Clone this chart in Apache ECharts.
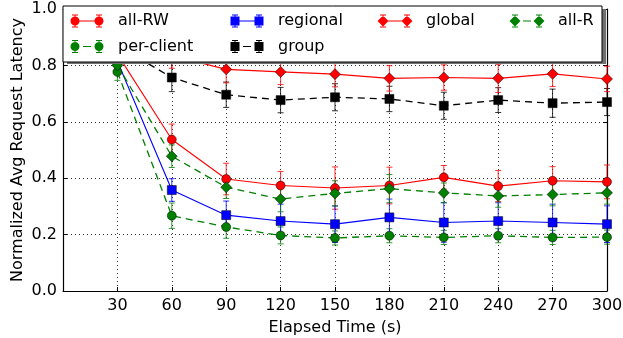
<!DOCTYPE html>
<html>
<head>
<meta charset="utf-8">
<script src="https://cdn.jsdelivr.net/npm/echarts@6/dist/echarts.min.js"></script>
<style>
html, body { margin: 0; padding: 0; background: #fff; }
#chart { width: 623px; height: 338px; }
</style>
</head>
<body>
<div id="chart"></div>
<script>
// elapsed time (s)
var times = [30, 60, 90, 120, 150, 180, 210, 240, 270, 300];

// normalized avg request latency, mean and error per series
var allRW        = [0.84, 0.537, 0.397, 0.374, 0.365, 0.374, 0.403, 0.372, 0.391, 0.387];
var allRWErr     = [0.05, 0.055, 0.056, 0.05, 0.075, 0.065, 0.042, 0.055, 0.05, 0.06];
var perClient    = [0.777, 0.267, 0.227, 0.197, 0.188, 0.196, 0.19, 0.196, 0.19, 0.191];
var perClientErr = [0.03, 0.045, 0.04, 0.03, 0.025, 0.025, 0.025, 0.025, 0.025, 0.025];
var regional     = [0.815, 0.358, 0.269, 0.248, 0.237, 0.261, 0.243, 0.248, 0.243, 0.237];
var regionalErr  = [0.04, 0.04, 0.05, 0.06, 0.065, 0.065, 0.07, 0.065, 0.065, 0.065];
var group        = [0.87, 0.757, 0.696, 0.677, 0.687, 0.681, 0.657, 0.677, 0.666, 0.67];
var groupErr     = [0.048, 0.05, 0.045, 0.045, 0.048, 0.045, 0.048, 0.044, 0.05, 0.048];
var globalLat    = [0.87, 0.835, 0.786, 0.777, 0.769, 0.754, 0.757, 0.754, 0.77, 0.752];
var globalErr    = [0.045, 0.045, 0.048, 0.045, 0.045, 0.045, 0.045, 0.05, 0.045, 0.045];
var allR         = [0.80, 0.478, 0.368, 0.326, 0.346, 0.363, 0.348, 0.337, 0.342, 0.348];
var allRErr      = [0.03, 0.04, 0.04, 0.045, 0.045, 0.05, 0.035, 0.04, 0.04, 0.04];

var FONT = 'DejaVu Sans';

// legend icon paths (errorbar style: marker - line - marker with caps)
function rectP(x, y, w, h) {
    return 'M' + x + ' ' + y + 'L' + (x + w) + ' ' + y + 'L' + (x + w) + ' ' + (y + h) + 'L' + x + ' ' + (y + h) + 'Z';
}
function markerP(kind, cx, cy) {
    if (kind === 'circle') {
        var r = 4.5;
        return 'M' + (cx - r) + ' ' + cy + 'A' + r + ' ' + r + ' 0 1 1 ' + (cx + r) + ' ' + cy +
               'A' + r + ' ' + r + ' 0 1 1 ' + (cx - r) + ' ' + cy + 'Z';
    }
    if (kind === 'rect') return rectP(cx - 4.5, cy - 4.5, 9, 9);
    var d = 5.5;
    return 'M' + cx + ' ' + (cy - d) + 'L' + (cx + d) + ' ' + cy + 'L' + cx + ' ' + (cy + d) + 'L' + (cx - d) + ' ' + cy + 'Z';
}
function iconPath(kind, dashed) {
    var p = rectP(0, 0, 0.01, 0.01) + rectP(35.99, 12.99, 0.01, 0.01);
    [6, 30].forEach(function (cx) {
        p += rectP(cx - 0.5, 0, 1, 13) + rectP(cx - 3, 0, 6, 1) + rectP(cx - 3, 12, 6, 1);
        p += markerP(kind, cx, 6.5);
    });
    p += dashed ? rectP(14, 6, 8, 1) : rectP(6, 6, 24, 1);
    return 'path://' + p;
}

function errSeries(name, vals, errs, color) {
    return {
        type: 'custom',
        name: name,
        silent: true,
        itemStyle: { color: color },
        data: times.map(function (t, i) { return [t, vals[i], errs[i]]; }),
        encode: { x: 0, y: 1 },
        renderItem: function (params, api) {
            var x = api.value(0), v = api.value(1), e = api.value(2);
            var top = api.coord([x, v + e]);
            var bot = api.coord([x, v - e]);
            var st = { stroke: color, lineWidth: 1, opacity: 0.8 };
            return {
                type: 'group',
                children: [
                    { type: 'line', shape: { x1: top[0], y1: top[1], x2: bot[0], y2: bot[1] }, style: st },
                    { type: 'line', shape: { x1: top[0] - 3, y1: top[1], x2: top[0] + 3, y2: top[1] }, style: st },
                    { type: 'line', shape: { x1: bot[0] - 3, y1: bot[1], x2: bot[0] + 3, y2: bot[1] }, style: st }
                ]
            };
        }
    };
}

function lineSeries(name, vals, color, symbol, size, dashed) {
    return {
        type: 'line',
        name: name,
        data: times.map(function (t, i) { return [t, vals[i]]; }),
        symbol: symbol,
        symbolSize: size,
        showAllSymbol: true,
        itemStyle: { color: color, borderColor: '#000', borderWidth: 0.5 },
        lineStyle: { color: color, width: dashed ? 1.3 : 1.1, type: dashed ? [7, 5] : 'solid' },
        emphasis: { disabled: true }
    };
}

var defs = [
    { name: 'all-RW', vals: allRW, errs: allRWErr, color: '#ff0000', kind: 'circle', size: 9, dashed: false, left: 69, top: 13 },
    { name: 'per-client', vals: perClient, errs: perClientErr, color: '#008000', kind: 'circle', size: 9, dashed: true, left: 69, top: 38.5 },
    { name: 'regional', vals: regional, errs: regionalErr, color: '#0000ff', kind: 'rect', size: 9, dashed: false, left: 229, top: 13 },
    { name: 'group', vals: group, errs: groupErr, color: '#000000', kind: 'rect', size: 9, dashed: true, left: 229, top: 38.5 },
    { name: 'global', vals: globalLat, errs: globalErr, color: '#ff0000', kind: 'diamond', size: 11, dashed: false, left: 377, top: 13 },
    { name: 'all-R', vals: allR, errs: allRErr, color: '#008000', kind: 'diamond', size: 11, dashed: true, left: 509, top: 13 }
];

var series = [];
var legends = [];
defs.forEach(function (d) {
    series.push(errSeries(d.name, d.vals, d.errs, d.color));
    series.push(lineSeries(d.name, d.vals, d.color, d.kind, d.size, d.dashed));
    legends.push({
        data: [{ name: d.name, icon: iconPath(d.kind, d.dashed) }],
        left: d.left,
        top: d.top,
        padding: 0,
        itemWidth: 36,
        itemHeight: 13,
        itemStyle: { borderWidth: 0 },
        lineStyle: { width: 0 },
        textStyle: { fontFamily: FONT, fontSize: 16, color: '#000', padding: [0, 0, 0, 8] },
        z: 20
    });
});

var axisLine = { show: true, onZero: false, lineStyle: { color: '#000', width: 1.2 } };
var gridLine = { color: '#000', width: 0.8, type: [1, 3] };

var option = {
    animation: false,
    backgroundColor: '#fff',
    textStyle: { fontFamily: FONT },
    grid: { left: 63, right: 16, top: 9, bottom: 47, outerBoundsMode: 'none', containLabel: false },
    legend: legends,
    graphic: [
        { type: 'rect', z: 15, shape: { x: 67, y: 9, width: 539, height: 55 }, style: { fill: '#707070' } },
        { type: 'rect', z: 16, shape: { x: 63, y: 6, width: 539, height: 56 }, style: { fill: '#fff', stroke: '#000', lineWidth: 1 } }
    ],
    xAxis: [{
        type: 'value', min: 0, max: 300, interval: 30,
        name: 'Elapsed Time (s)', nameLocation: 'middle', nameGap: 29, nameMoveOverlap: false,
        nameTextStyle: { fontFamily: FONT, fontSize: 16, color: '#000' },
        axisLine: axisLine,
        axisTick: { inside: true, length: 4, lineStyle: { color: '#000' } },
        axisLabel: {
            fontFamily: FONT, fontSize: 16, color: '#000', margin: 7,
            formatter: function (v) { return v === 0 ? '' : String(v); }
        },
        splitLine: { show: true, lineStyle: gridLine }
    }, {
        type: 'value', position: 'top', min: 0, max: 300, interval: 30,
        axisLine: axisLine,
        axisTick: { inside: true, length: 4, lineStyle: { color: '#000' } },
        axisLabel: { show: false },
        splitLine: { show: false }
    }],
    yAxis: [{
        type: 'value', min: 0, max: 1, interval: 0.2,
        name: 'Normalized Avg Request Latency', nameLocation: 'middle', nameGap: 37, nameMoveOverlap: false,
        nameTextStyle: { fontFamily: FONT, fontSize: 16, color: '#000' },
        axisLine: axisLine,
        axisTick: { inside: true, length: 4, lineStyle: { color: '#000' } },
        axisLabel: {
            fontFamily: FONT, fontSize: 16, color: '#000', margin: 6,
            formatter: function (v) { return v.toFixed(1); }
        },
        splitLine: { show: true, lineStyle: gridLine }
    }, {
        type: 'value', position: 'right', min: 0, max: 1, interval: 0.2,
        axisLine: axisLine,
        axisTick: { inside: true, length: 4, lineStyle: { color: '#000' } },
        axisLabel: { show: false },
        splitLine: { show: false }
    }],
    series: series
};

var myChart = echarts.init(document.getElementById('chart'));
myChart.setOption(option);
window.addEventListener('resize', function () { myChart.resize(); });
</script>
</body>
</html>
